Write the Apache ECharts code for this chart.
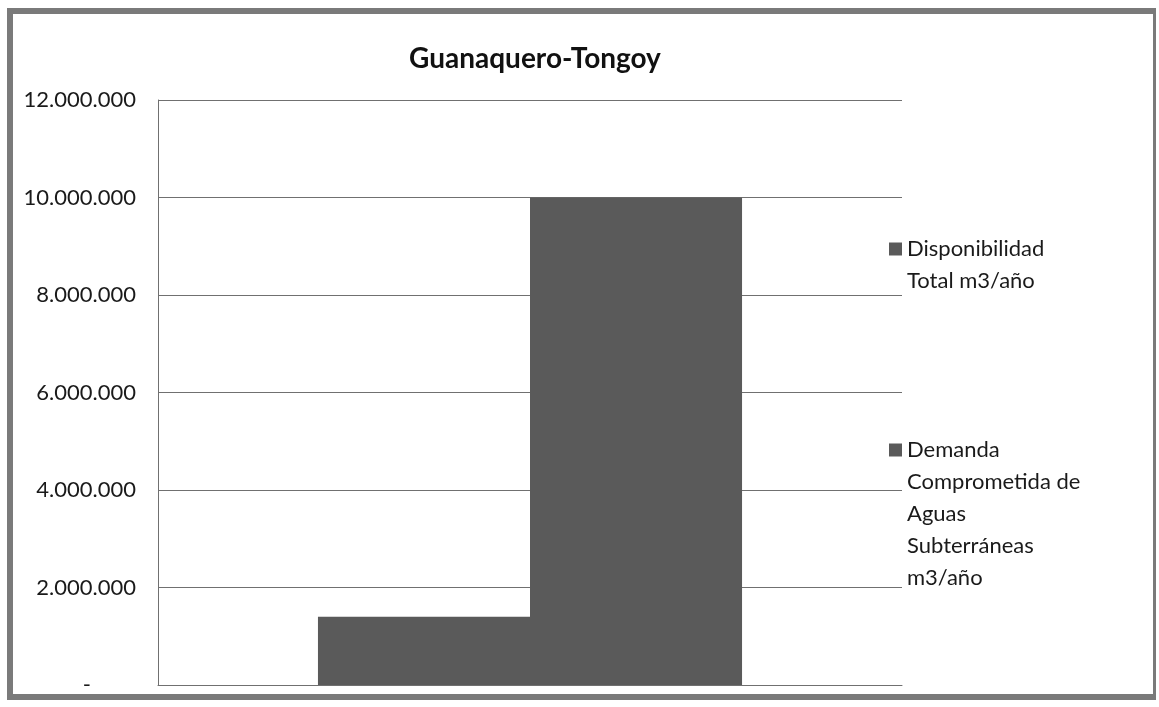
<!DOCTYPE html>
<html>
<head>
<meta charset="utf-8">
<script src="https://cdn.jsdelivr.net/npm/echarts@6/dist/echarts.min.js"></script>
<style>
html,body{margin:0;padding:0;background:#fff;}
#chart{position:absolute;left:0;top:0;width:1159px;height:707px;}
#frame{position:absolute;left:7px;top:8px;width:1140px;height:680px;border:6px solid #7a7a7a;border-right-width:3px;pointer-events:none;}
</style>
</head>
<body>
<div id="chart"></div>
<div id="frame"></div>
<script>
const title = 'Guanaquero-Tongoy';
const categories = [''];
const seriesNames = ['Disponibilidad Total m3/año', 'Demanda Comprometida de Aguas Subterráneas m3/año'];
const legendLines = [['Disponibilidad', 'Total m3/año'], ['Demanda', 'Comprometida de', 'Aguas', 'Subterráneas', 'm3/año']];
const disponibilidad = [1400000];
const demanda = [10000000];
const tickValues = [0, 2000000, 4000000, 6000000, 8000000, 10000000, 12000000];
const tickLabels = ['-', '2.000.000', '4.000.000', '6.000.000', '8.000.000', '10.000.000', '12.000.000'];

const FONT = 'Lato';
const LH = 32;
const barColor = '#5a5a5a';

function legendFor(i, top) {
  const n = legendLines[i].length;
  // blank lines above so that the first line sits level with the icon
  const pre = new Array(n - 1).fill('').join('\n');
  return {
    left: 884, top: top, orient: 'vertical',
    data: [seriesNames[i]],
    icon: 'rect', itemWidth: 13, itemHeight: 13, itemGap: 0,
    selectedMode: false,
    formatter: function () { return pre + '\n' + legendLines[i].join('\n'); },
    textStyle: { fontFamily: FONT, fontSize: 22, color: '#1a1a1a', lineHeight: LH }
  };
}

const chart = echarts.init(document.getElementById('chart'), null, { renderer: 'canvas' });
chart.setOption({
  animation: false,
  backgroundColor: '#fff',
  title: {
    text: title, left: 530, top: 40, textAlign: 'center',
    textStyle: { fontFamily: FONT, fontSize: 28, fontWeight: 'bold', color: '#111' }
  },
  legend: [legendFor(0, 196), legendFor(1, 301)],
  grid: { left: 158, right: 257, top: 100, bottom: 22, containLabel: false },
  xAxis: {
    type: 'category', data: categories,
    axisLine: { show: true, lineStyle: { color: '#707070', width: 1 } },
    axisTick: { show: false }, axisLabel: { show: false }
  },
  yAxis: {
    type: 'value', min: 0, max: 12000000, interval: 2000000,
    axisLine: { show: true, lineStyle: { color: '#707070', width: 1 } },
    axisTick: { show: false },
    splitLine: { lineStyle: { color: '#707070', width: 1 } },
    axisLabel: {
      fontFamily: FONT, fontSize: 22, color: '#1a1a1a', margin: 22,
      formatter: function (v) {
        const i = tickValues.indexOf(v);
        const s = i >= 0 ? tickLabels[i] : '';
        return s === '-' ? '-        ' : s;
      }
    }
  },
  series: [
    { name: seriesNames[0], type: 'bar', data: disponibilidad, barGap: '0%', barCategoryGap: '43%', itemStyle: { color: barColor } },
    { name: seriesNames[1], type: 'bar', data: demanda, barGap: '0%', barCategoryGap: '43%', itemStyle: { color: barColor } }
  ]
});
</script>
</body>
</html>
